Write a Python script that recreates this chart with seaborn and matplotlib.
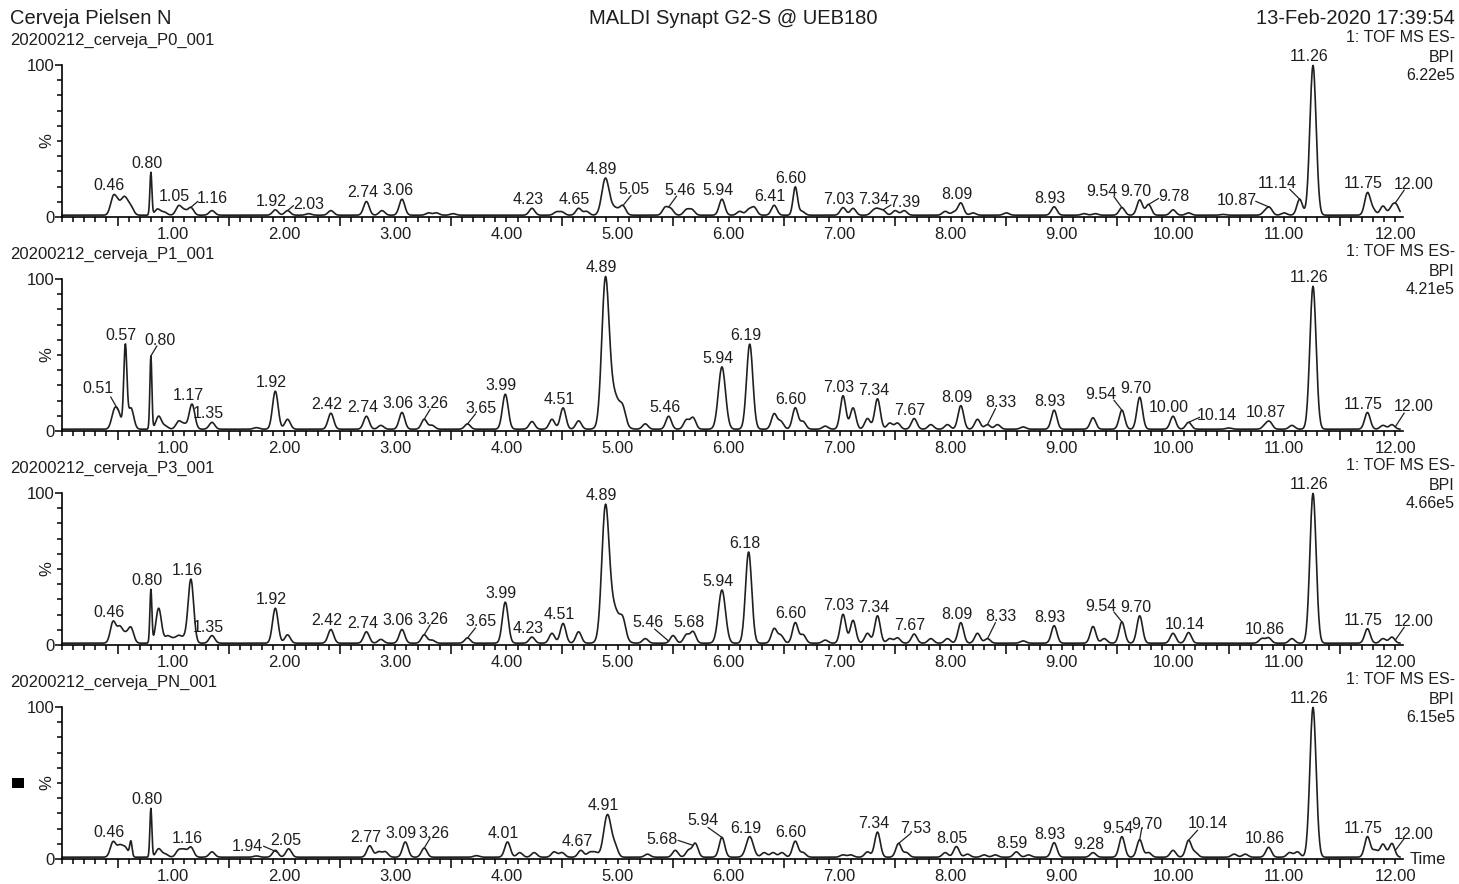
import numpy as np
import matplotlib
matplotlib.use("Agg")
import matplotlib.pyplot as plt
import seaborn as sns
from matplotlib.ticker import FixedLocator, MultipleLocator, FuncFormatter, NullFormatter
from matplotlib.patches import Rectangle

sns.set_theme(style="white")
plt.rcParams['font.family'] = ['Liberation Sans', 'DejaVu Sans']

# ---------------- data ----------------
TITLE_LEFT = "Cerveja Pielsen N"
TITLE_CENTER = "MALDI Synapt G2-S @ UEB180"
TITLE_RIGHT = "13-Feb-2020 17:39:54"
SAMPLES = ["20200212_cerveja_P0_001", "20200212_cerveja_P1_001",
           "20200212_cerveja_P3_001", "20200212_cerveja_PN_001"]
SCAN_LINE1 = "1: TOF MS ES-"
SCAN_LINE2 = "BPI"
INTENSITIES = ["6.22e5", "4.21e5", "4.66e5", "6.15e5"]
X_TICKS = [1, 2, 3, 4, 5, 6, 7, 8, 9, 10, 11, 12]

BASELINE = 1.2
DEFAULT_WIDTH = 0.025

# sample P0: peak retention times (min) and heights (%)
P0_RT = [0.46, 0.50, 0.55, 0.58, 0.62, 0.80, 0.86, 0.92, 1.05, 1.10, 1.16, 1.35, 1.92, 2.03,
         2.22, 2.42, 2.74, 2.88, 3.06, 3.30, 3.37, 3.52, 4.23, 4.45, 4.50, 4.65, 4.72, 4.89,
         4.97, 5.05, 5.43, 5.48, 5.62, 5.67, 5.94, 6.10, 6.18, 6.23, 6.41, 6.60, 6.66, 7.03,
         7.12, 7.30, 7.34, 7.39, 7.50, 7.58, 7.95, 8.03, 8.09, 8.20, 8.50, 8.93, 9.20, 9.30,
         9.54, 9.70, 9.78, 10.00, 10.14, 10.45, 10.83, 10.87, 11.00, 11.14, 11.26, 11.75,
         11.80, 11.89, 11.97, 12.01]
P0_H = [11, 7, 8, 6, 5, 28, 4, 2, 6, 3, 5, 3, 3.5, 3,
        1, 3, 9, 3, 10.5, 1.5, 1.5, 1, 4.5, 2, 2, 4.5, 2.5, 23,
        5, 5, 5, 4, 3.5, 3.5, 10.5, 2.5, 3.5, 5, 6.5, 18.5, 2.5, 5,
        4.5, 2.5, 3.5, 3, 3, 3, 2.5, 2, 8, 1.5, 1.5, 5.5, 1, 1,
        5, 10, 7, 3.5, 1.5, 0.5, 2.5, 4.5, 1.5, 10.5, 98.5, 14.5,
        3.5, 6, 5, 6]
P0_W = {0.80: 0.009, 4.89: 0.032, 4.97: 0.05, 6.60: 0.02, 11.26: 0.028}

# sample P1
P1_RT = [0.47, 0.51, 0.57, 0.62, 0.80, 0.87, 0.93, 1.05, 1.10, 1.17, 1.35, 1.75, 1.92, 2.03,
         2.42, 2.74, 2.87, 3.06, 3.26, 3.33, 3.65, 3.99, 4.23, 4.41, 4.51, 4.65, 4.89, 4.96,
         5.05, 5.25, 5.46, 5.62, 5.68, 5.94, 6.19, 6.41, 6.47, 6.60, 6.67, 6.87, 7.03, 7.12,
         7.25, 7.34, 7.45, 7.52, 7.67, 7.82, 7.97, 8.09, 8.24, 8.33, 8.42, 8.65, 8.93, 9.28,
         9.54, 9.70, 10.00, 10.14, 10.50, 10.83, 10.87, 11.07, 11.26, 11.75, 11.89, 11.97]
P1_H = [11, 9, 54, 14, 48, 8.5, 2, 5, 3, 16.5, 4.5, 1, 25, 6.5,
        10.5, 8.5, 2.5, 11, 6.5, 2.5, 3.5, 23, 5, 6.5, 14, 5.5, 88, 24,
        8, 3.5, 8.5, 6, 7.5, 41, 56, 10, 5, 14, 5, 2, 22, 14,
        7, 20, 4, 4, 7, 3, 3, 15.5, 6.5, 3, 3, 1.5, 12.5, 7.5,
        12.5, 21, 8.5, 4.5, 0.8, 2.5, 4.5, 2.5, 94, 11, 2.5, 3]
P1_W = {0.57: 0.014, 0.80: 0.009, 3.99: 0.026, 4.89: 0.032, 4.96: 0.06, 5.94: 0.032,
        6.19: 0.028, 11.26: 0.028}

# sample P3
P3_RT = [0.46, 0.52, 0.57, 0.62, 0.80, 0.87, 0.95, 1.00, 1.05, 1.10, 1.16, 1.35, 1.92, 2.03,
         2.42, 2.74, 2.87, 3.06, 3.26, 3.33, 3.65, 3.99, 4.23, 4.41, 4.51, 4.65, 4.89, 4.96,
         5.05, 5.25, 5.50, 5.62, 5.68, 5.94, 6.18, 6.41, 6.47, 6.60, 6.67, 6.87, 7.03, 7.12,
         7.25, 7.34, 7.45, 7.52, 7.67, 7.82, 7.97, 8.09, 8.24, 8.33, 8.65, 8.93, 9.28, 9.38,
         9.54, 9.70, 10.00, 10.14, 10.80, 10.86, 11.07, 11.26, 11.75, 11.89, 11.97]
P3_H = [14, 10, 5, 10, 35, 23, 4.5, 2.5, 4.5, 3, 42, 5, 23, 5.5,
        9, 7.5, 2.5, 9, 5.5, 2, 3.5, 27, 4, 6.5, 13, 7.5, 79, 24,
        9.5, 3, 5, 5.5, 7.5, 35, 60, 9.5, 5, 13.5, 5.5, 2, 19, 15,
        6.5, 18, 3, 3.5, 6, 3, 3, 13.5, 6.5, 3, 1.5, 11.5, 11, 3,
        14, 18, 6.5, 7, 3, 3.5, 3, 98.5, 9.5, 3, 4]
P3_W = {0.80: 0.009, 3.99: 0.026, 4.89: 0.032, 4.96: 0.06, 5.94: 0.032, 6.18: 0.028,
        11.26: 0.028}

# sample PN
PN_RT = [0.46, 0.52, 0.57, 0.62, 0.80, 0.87, 0.93, 1.05, 1.10, 1.16, 1.35, 1.75, 1.92, 2.04,
         2.77, 2.85, 2.91, 3.09, 3.26, 3.73, 4.01, 4.12, 4.25, 4.43, 4.50, 4.67, 4.75, 4.80,
         4.91, 4.98, 5.27, 5.52, 5.64, 5.70, 5.94, 6.19, 6.32, 6.40, 6.48, 6.60, 6.67, 7.03,
         7.10, 7.25, 7.34, 7.53, 7.60, 7.95, 8.05, 8.15, 8.30, 8.40, 8.59, 8.70, 8.93, 9.28,
         9.54, 9.70, 9.78, 10.00, 10.14, 10.20, 10.55, 10.65, 10.86, 11.05, 11.12, 11.26,
         11.75, 11.82, 11.89, 11.97]
PN_H = [10, 7, 6, 10, 32, 5.5, 2, 4.5, 4.5, 6.5, 3.5, 0.8, 4.5, 5.5,
        7.5, 3.5, 3.5, 10, 6, 1, 10, 3, 3, 3.5, 3, 4.5, 3, 3,
        28, 6, 2, 4.5, 4.5, 9, 13, 13.5, 3, 3, 3, 10.5, 3, 1.5,
        1.5, 3.5, 16.5, 9, 3, 3, 7, 2, 1.5, 1.5, 3.5, 1.5, 9.5, 3,
        13.5, 11.5, 3, 4.5, 11, 3, 2, 2, 6.5, 3, 3.5, 98.5,
        13.5, 4.5, 8.5, 9]
PN_W = {0.62: 0.011, 0.80: 0.009, 4.91: 0.034, 6.19: 0.032, 11.26: 0.028}

# peak labels for each trace
P0_LABELS = ["0.46", "0.80", "1.05", "1.16", "1.92", "2.03", "2.74", "3.06", "4.23", "4.65",
             "4.89", "5.05", "5.46", "5.94", "6.41", "6.60", "7.03", "7.34", "7.39", "8.09",
             "8.93", "9.54", "9.70", "9.78", "10.87", "11.14", "11.26", "11.75", "12.00"]
P1_LABELS = ["0.51", "0.57", "0.80", "1.17", "1.35", "1.92", "2.42", "2.74", "3.06", "3.26",
             "3.65", "3.99", "4.51", "4.89", "5.46", "5.94", "6.19", "6.60", "7.03", "7.34",
             "7.67", "8.09", "8.33", "8.93", "9.54", "9.70", "10.00", "10.14", "10.87", "11.26",
             "11.75", "12.00"]
P3_LABELS = ["0.46", "0.80", "1.16", "1.35", "1.92", "2.42", "2.74", "3.06", "3.26", "3.65",
             "3.99", "4.23", "4.51", "4.89", "5.46", "5.68", "5.94", "6.18", "6.60", "7.03",
             "7.34", "7.67", "8.09", "8.33", "8.93", "9.54", "9.70", "10.14", "10.86", "11.26",
             "11.75", "12.00"]
PN_LABELS = ["0.46", "0.80", "1.16", "1.94", "2.05", "2.77", "3.09", "3.26", "4.01", "4.67",
             "4.91", "5.68", "5.94", "6.19", "6.60", "7.34", "7.53", "8.05", "8.59", "8.93",
             "9.28", "9.54", "9.70", "10.14", "10.86", "11.26", "11.75", "12.00"]

# ---------------- layout (pixel offsets of leader-line labels) ----------------
# label -> (text dx, text dy, line end dx, line end dy) in image pixels, dy<0 is up
P0_LEAD = {"1.16": (21, -10, 7, -6), "2.03": (21, -8, 6, -5), "5.05": (11, -17, 8, -10),
           "5.46": (11, -18, 8, -11), "7.39": (22, -9, 8, -5), "9.54": (-20, -18, -8, -11),
           "9.78": (25, -9, 10, -6), "10.87": (-33, -8, -14, -6), "11.14": (-22, -17, -10, -10),
           "12.00": (18, -20, 9, -13)}
P1_LEAD = {"0.51": (-21, -24, -8, -14), "0.80": (9, -17, 6, -10), "3.26": (9, -17, 6, -10),
           "3.65": (13, -17, 8, -10), "8.33": (13, -24, 8, -16), "9.54": (-21, -17, -8, -10),
           "10.14": (28, -8, 11, -5), "12.00": (18, -22, 9, -14)}
P3_LEAD = {"3.26": (9, -17, 6, -10), "3.65": (13, -18, 8, -10), "5.46": (-21, -20, -14, -12),
           "8.33": (13, -24, 8, -16), "9.54": (-21, -17, -8, -10), "12.00": (18, -20, 9, -13)}
PN_LEAD = {"1.94": (-30, -7, -14, -6), "3.26": (10, -16, 6, -10), "5.68": (-31, -7, -15, -5),
           "5.94": (-19, -18, -14, -10), "7.53": (17, -16, 12, -10), "9.70": (7, -17, 2, -11),
           "10.14": (19, -18, 9, -10), "12.00": (18, -18, 9, -12)}

TRACES = [(P0_RT, P0_H, P0_W, P0_LABELS, P0_LEAD),
          (P1_RT, P1_H, P1_W, P1_LABELS, P1_LEAD),
          (P3_RT, P3_H, P3_W, P3_LABELS, P3_LEAD),
          (PN_RT, PN_H, PN_W, PN_LABELS, PN_LEAD)]

# ---------------- drawing ----------------
W, H = 1459, 884
fig = plt.figure(figsize=(W / 100, H / 100), dpi=100)
TXT = "#1e1e1e"
LINE = "#202020"
LABEL_FS = 11.5

t = np.arange(0.0, 12.045, 0.004)


def build_trace(rts, hs, wmap):
    y = np.full_like(t, BASELINE)
    for r, h in zip(rts, hs):
        w = wmap.get(r, DEFAULT_WIDTH)
        y = y + h * np.exp(-0.5 * ((t - r) / w) ** 2)
    return y


def ftext(x, y, s, **kw):
    kw.setdefault("color", TXT)
    return fig.text(x / W, 1 - y / H, s, **kw)


ftext(10, 18, TITLE_LEFT, ha="left", va="center", fontsize=14.5)
ftext(733, 18, TITLE_CENTER, ha="center", va="center", fontsize=14.5)
ftext(1455, 18, TITLE_RIGHT, ha="right", va="center", fontsize=14.5)

PANEL_STEP = 214
for k, (rts, hs, wmap, labels, lead) in enumerate(TRACES):
    y0 = 217 + PANEL_STEP * k
    ax = fig.add_axes([62 / W, 1 - y0 / H, (1403 - 62) / W, 152 / H])
    y = build_trace(rts, hs, wmap)
    sns.lineplot(x=t, y=y, ax=ax, color=LINE, linewidth=1.2, estimator=None, sort=False)
    ax.lines[-1].set_clip_on(False)
    ax.set_xlim(0, 12.07)
    ax.set_ylim(0, 100)
    ax.set_xlabel("")
    ax.set_ylabel("")
    for s in ["top", "right"]:
        ax.spines[s].set_visible(False)
    for s in ["left", "bottom"]:
        ax.spines[s].set_color("black")
        ax.spines[s].set_linewidth(1.2)

    # x ticks: labelled short ticks at integers, longer ticks at the half minutes
    ax.xaxis.set_major_locator(FixedLocator([v + 0.5 for v in range(0, 12)]))
    ax.xaxis.set_major_formatter(NullFormatter())
    ax.xaxis.set_minor_locator(MultipleLocator(0.1))
    ax.xaxis.set_minor_formatter(FuncFormatter(
        lambda v, p: f"{v:.2f}" if any(abs(v - x) < 1e-6 for x in X_TICKS) else ""))
    ax.tick_params(axis="x", which="major", direction="out", length=6.5, width=1.1,
                   color="black", bottom=True)
    ax.tick_params(axis="x", which="minor", direction="out", length=3.8, width=1.1,
                   color="black", labelsize=12, pad=3.5, labelcolor=TXT, bottom=True)
    ax.yaxis.set_major_locator(FixedLocator([0, 100]))
    ax.set_yticklabels(["0", "100"])
    ax.yaxis.set_minor_locator(MultipleLocator(10))
    ax.tick_params(axis="y", which="major", direction="out", length=5, width=1.1,
                   color="black", labelsize=12, pad=0.5, labelcolor=TXT, left=True)
    ax.tick_params(axis="y", which="minor", direction="out", length=3.5, width=1.1,
                   color="black", left=True)
    ax.grid(False)

    ftext(47, y0 - 76, "%", ha="center", va="center", rotation=90, fontsize=12)
    ftext(10, 40 + PANEL_STEP * k, SAMPLES[k], ha="left", va="center", fontsize=12)
    ftext(1455, 38 + PANEL_STEP * k, SCAN_LINE1, ha="right", va="center", fontsize=11.5)
    ftext(1455, 57 + PANEL_STEP * k, SCAN_LINE2, ha="right", va="center", fontsize=11.5)
    ftext(1455, 75 + PANEL_STEP * k, INTENSITIES[k], ha="right", va="center", fontsize=11.5)

    for lab in labels:
        rt = float(lab)
        if lab in lead:
            ypk = float(np.interp(rt, t, y))
            tdx, tdy, ldx, ldy = lead[lab]
            ax.annotate(lab, xy=(rt, ypk), xytext=(tdx, -tdy - 1.5), textcoords="offset pixels",
                        ha="center", va="center", fontsize=LABEL_FS, color=TXT,
                        annotation_clip=False)
            ax.annotate("", xy=(rt, ypk), xytext=(ldx, -ldy), textcoords="offset pixels",
                        annotation_clip=False,
                        arrowprops=dict(arrowstyle="-", lw=0.9, color=LINE,
                                        shrinkA=0, shrinkB=0))
        else:
            m = (t >= rt - 0.015) & (t <= rt + 0.015)
            ypk = float(y[m].max())
            ax.annotate(lab, xy=(rt, ypk), xytext=(-4, 1), textcoords="offset pixels",
                        ha="center", va="bottom", fontsize=LABEL_FS, color=TXT,
                        annotation_clip=False)

ftext(1410, 860, "Time", ha="left", va="center", fontsize=12)
fig.patches.append(Rectangle((12 / W, 1 - 788 / H), 12 / W, 10 / H, transform=fig.transFigure,
                             facecolor="black", edgecolor="none"))

fig.savefig("out.png", dpi=100)
